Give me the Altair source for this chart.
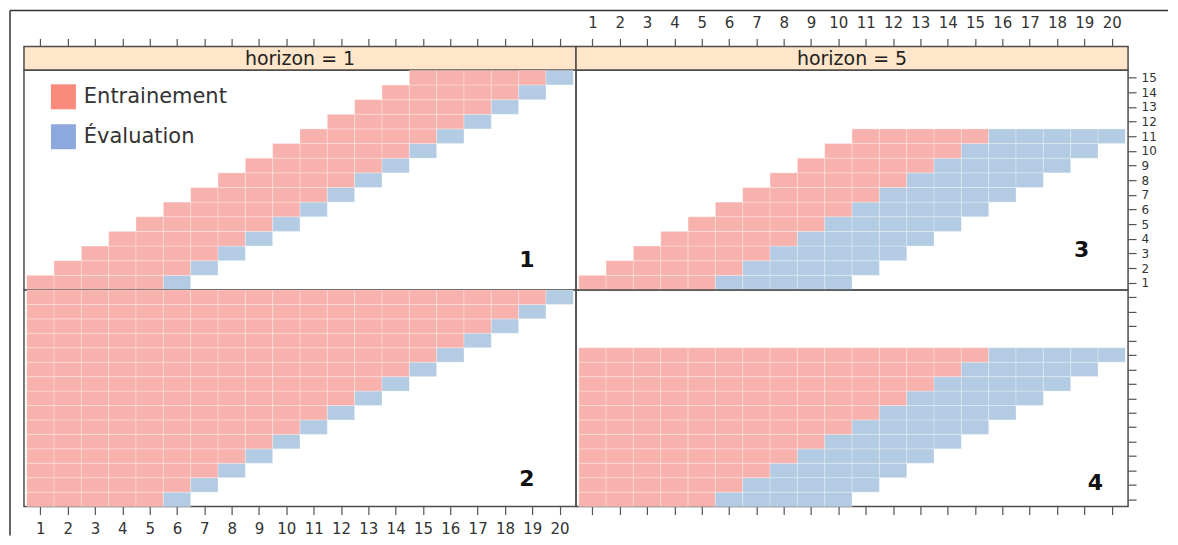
import altair as alt
import pandas as pd

# ---------------- data ----------------
roles = ["Entrainement", "Évaluation"]
tile_colors = ["#F8B2AD", "#B3CCE3"]
legend_colors = ["#FA8B7C", "#8DA8DC"]

x_ticks = [1, 2, 3, 4, 5, 6, 7, 8, 9, 10, 11, 12, 13, 14, 15, 16, 17, 18, 19, 20]
y_ticks = [1, 2, 3, 4, 5, 6, 7, 8, 9, 10, 11, 12, 13, 14, 15]

strip_labels = ["horizon = 1", "horizon = 5"]

# panel 1 : horizon = 1, fenêtre glissante
p1_rows = [1, 2, 3, 4, 5, 6, 7, 8, 9, 10, 11, 12, 13, 14, 15]
p1_train_start = [1, 2, 3, 4, 5, 6, 7, 8, 9, 10, 11, 12, 13, 14, 15]
p1_train_end = [5, 6, 7, 8, 9, 10, 11, 12, 13, 14, 15, 16, 17, 18, 19]
p1_test_end = [6, 7, 8, 9, 10, 11, 12, 13, 14, 15, 16, 17, 18, 19, 20]

# panel 2 : horizon = 1, fenêtre croissante
p2_rows = [1, 2, 3, 4, 5, 6, 7, 8, 9, 10, 11, 12, 13, 14, 15]
p2_train_start = [1, 1, 1, 1, 1, 1, 1, 1, 1, 1, 1, 1, 1, 1, 1]
p2_train_end = [5, 6, 7, 8, 9, 10, 11, 12, 13, 14, 15, 16, 17, 18, 19]
p2_test_end = [6, 7, 8, 9, 10, 11, 12, 13, 14, 15, 16, 17, 18, 19, 20]

# panel 3 : horizon = 5, fenêtre glissante
p3_rows = [1, 2, 3, 4, 5, 6, 7, 8, 9, 10, 11]
p3_train_start = [1, 2, 3, 4, 5, 6, 7, 8, 9, 10, 11]
p3_train_end = [5, 6, 7, 8, 9, 10, 11, 12, 13, 14, 15]
p3_test_end = [10, 11, 12, 13, 14, 15, 16, 17, 18, 19, 20]

# panel 4 : horizon = 5, fenêtre croissante
p4_rows = [1, 2, 3, 4, 5, 6, 7, 8, 9, 10, 11]
p4_train_start = [1, 1, 1, 1, 1, 1, 1, 1, 1, 1, 1]
p4_train_end = [5, 6, 7, 8, 9, 10, 11, 12, 13, 14, 15]
p4_test_end = [10, 11, 12, 13, 14, 15, 16, 17, 18, 19, 20]

# panel numbers (label, x, y in data units)
num_labels = ["1", "2", "3", "4"]
num_x = [18.8, 18.8, 18.9, 19.4]
num_y = [2.55, 2.4, 3.2, 2.1]

# ---------------- layout constants ----------------
XDOM = [0.4, 20.6]
YDOM = [0.5, 15.5]
W = 553
H_TOP = 220
H_BOT = 217
H_STRIP = 24
FONT = "DejaVu Sans"
BORDER = "#4d4d4d"
TICK_FS = 15


def cells(rows, ts, te, ve):
    recs = []
    for r, a, b, c in zip(rows, ts, te, ve):
        for t in range(a, b + 1):
            recs.append(dict(x0=t - 0.5, x1=t + 0.5, y0=r - 0.5, y1=r + 0.5, role=roles[0]))
        for t in range(b + 1, c + 1):
            recs.append(dict(x0=t - 0.5, x1=t + 0.5, y0=r - 0.5, y1=r + 0.5, role=roles[1]))
    return pd.DataFrame(recs)


xscale = alt.Scale(domain=XDOM, nice=False, zero=False)
yscale = alt.Scale(domain=YDOM, nice=False, zero=False)


def xaxis(orient, labels, pad):
    return alt.Axis(orient=orient, values=x_ticks, labels=labels, domain=False, grid=False,
                    ticks=True, tickSize=8, tickColor="#555", tickWidth=1.2,
                    labelFontSize=TICK_FS, labelColor="#333", labelFont=FONT, labelPadding=pad,
                    labelAngle=0, labelFlush=False, labelOverlap=False, title=None)


def yaxis(labels):
    return alt.Axis(orient="right", values=y_ticks, labels=labels, domain=False, grid=False,
                    ticks=True, tickSize=8, tickColor="#555", tickWidth=1.2,
                    labelFontSize=12, labelColor="#333", labelFont=FONT, labelPadding=5,
                    labelFlush=False, labelOverlap=False, title=None)


def panel(df, k, h, xax, yax, with_legend=False):
    num_df = pd.DataFrame({"x": [num_x[k]], "y": [num_y[k]], "label": [num_labels[k]]})
    base = alt.Chart(df)
    tiles = base.mark_rect(stroke="white", strokeOpacity=0.35, strokeWidth=0.8).encode(
        x=alt.X("x0:Q", scale=xscale, axis=xax),
        x2="x1:Q",
        y=alt.Y("y0:Q", scale=yscale, axis=yax),
        y2="y1:Q",
        color=alt.Color("role:N", scale=alt.Scale(domain=roles, range=tile_colors), legend=None),
    )
    num = alt.Chart(num_df).mark_text(font=FONT, fontSize=22, fontWeight="bold", color="#111").encode(
        x=alt.X("x:Q", scale=xscale, axis=xax),
        y=alt.Y("y:Q", scale=yscale, axis=yax),
        text="label:N",
    )
    layers = [tiles, num]
    if with_legend:
        leg = base.transform_calculate(
            xa="datum.x0 + 0.3", xb="datum.x1 - 0.3", ya="datum.y0 + 0.3", yb="datum.y1 - 0.3"
        ).mark_rect().encode(
            x=alt.X("xa:Q", scale=xscale, axis=xax),
            x2="xb:Q",
            y=alt.Y("ya:Q", scale=yscale, axis=yax),
            y2="yb:Q",
            color=alt.Color("role:N", scale=alt.Scale(domain=roles, range=legend_colors),
                            legend=alt.Legend(title=None, orient="none", legendX=27, legendY=14,
                                              symbolType="square", symbolSize=625,
                                              symbolStrokeWidth=0, labelFontSize=21,
                                              labelFont=FONT, labelColor="#333",
                                              rowPadding=15, labelOffset=8, padding=0)),
        )
        layers = [leg, tiles, num]
    ch = alt.layer(*layers).properties(width=W, height=h)
    if with_legend:
        ch = ch.resolve_scale(color="independent")
    return ch


def strip(label, labels_on, with_frame=False):
    sdf = pd.DataFrame({"xc": [10.5], "label": [label]})
    txt = alt.Chart(sdf).mark_text(font=FONT, fontSize=19, color="#222").encode(
        x=alt.X("xc:Q", scale=xscale, axis=xaxis("top", labels_on, 8)),
        y=alt.value(H_STRIP / 2 + 1),
        text="label:N",
    )
    layers = [txt]
    if with_frame:
        top = alt.Chart(sdf).mark_rule(color="#333", strokeWidth=1.5).encode(
            x=alt.value(-14), x2=alt.value(1146), y=alt.value(-36), y2=alt.value(-36))
        left = alt.Chart(sdf).mark_rule(color="#333", strokeWidth=1.5).encode(
            x=alt.value(-14), y=alt.value(-36), y2=alt.value(490))
        layers = [top, left, txt]
    return alt.layer(*layers).properties(
        width=W, height=H_STRIP,
        view=alt.ViewBackground(fill="#FFE5C9", stroke=BORDER, strokeWidth=1.5),
    )


s1 = strip(strip_labels[0], False, with_frame=True)
s5 = strip(strip_labels[1], True)
c1 = panel(cells(p1_rows, p1_train_start, p1_train_end, p1_test_end), 0, H_TOP, None, None, with_legend=True)
c3 = panel(cells(p3_rows, p3_train_start, p3_train_end, p3_test_end), 2, H_TOP, None, yaxis(True))
c2 = panel(cells(p2_rows, p2_train_start, p2_train_end, p2_test_end), 1, H_BOT, xaxis("bottom", True, 7), None)
c4 = panel(cells(p4_rows, p4_train_start, p4_train_end, p4_test_end), 3, H_BOT, xaxis("bottom", False, 7), yaxis(False))

chart = alt.concat(s1, s5, c1, c3, c2, c4, columns=2, spacing=0, bounds="flush").resolve_scale(
    color="independent"
).resolve_legend(color="independent").properties(
    padding=0, background="white"
).configure_view(stroke=BORDER, strokeWidth=1.5)

chart.save("out.html", embed_options={"renderer": "svg", "actions": False})
